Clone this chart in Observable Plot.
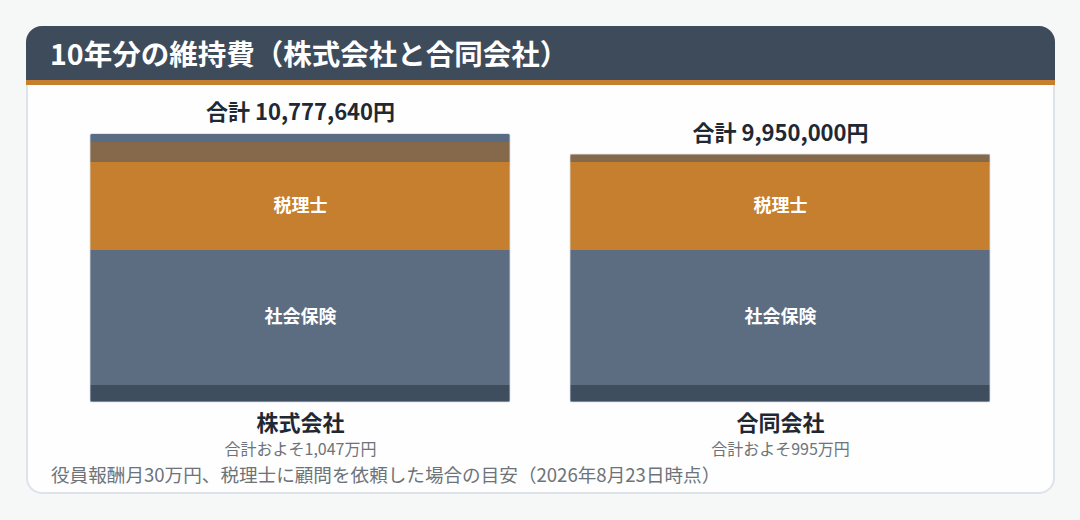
<!DOCTYPE html>
<html>
<head>
<meta charset="utf-8">
<script src="https://cdn.jsdelivr.net/npm/d3@7"></script>
<script src="https://cdn.jsdelivr.net/npm/@observablehq/plot@0.6"></script>
<style>
  html, body { margin: 0; padding: 0; background: #f6f7f7; }
  body { width: 1080px; height: 520px; position: relative; overflow: hidden;
         font-family: "Noto Sans CJK JP", "Noto Sans", sans-serif; }
  #card { position: absolute; left: 26px; top: 26px; width: 1029px; height: 468px;
          border-radius: 16px; background: #fdfefd; overflow: hidden;
          box-shadow: inset 0 0 0 2px #dee3ea; }
  #head { position: absolute; left: 0; top: 0; width: 100%; height: 54px;
          background: #3e4b5b; border-bottom: 5px solid #c57f2e; }
  #title { position: absolute; left: 24px; top: 0; line-height: 54px; font-size: 28.5px;
           font-weight: 700; color: #ffffff; white-space: nowrap; }
  #chart { position: absolute; left: 0; top: 85px; }
  #note { position: absolute; left: 51px; top: 464.5px; font-size: 18.6px; line-height: 18.6px;
          color: #6e737a; white-space: nowrap; }
</style>
</head>
<body>
<div id="card"><div id="head"><div id="title">10年分の維持費（株式会社と合同会社）</div></div></div>
<div id="chart"></div>
<div id="note">役員報酬月30万円、税理士に顧問を依頼した場合の目安（2026年8月23日時点）</div>
<script>
// ---- data ----
const companies = ["株式会社", "合同会社"];
const categories = ["法人住民税均等割", "社会保険", "税理士", "設立・登記費用", "決算公告"];
const kabushikiValues = [700000, 5420000, 3500000, 820000, 337640];
const goudouValues = [700000, 5420000, 3500000, 330000, 0];
const approxLabels = ["合計およそ1,047万円", "合計およそ995万円"];
const labeledCategories = ["社会保険", "税理士"];

// ---- build table ----
const seriesByCompany = [kabushikiValues, goudouValues];
const rows = [];
companies.forEach((c, i) => {
  categories.forEach((k, j) => {
    const v = seriesByCompany[i][j];
    if (v > 0) rows.push({company: c, category: k, value: v});
  });
});
const totals = companies.map((c, i) => ({
  company: c,
  total: d3.sum(seriesByCompany[i]),
  approx: approxLabels[i]
}));
const fmt = d3.format(",");

const plot = Plot.plot({
  width: 1080,
  height: 380,
  marginLeft: 90,
  marginRight: 90,
  marginTop: 48.5,
  marginBottom: 63,
  style: {background: "transparent", fontFamily: "'Noto Sans CJK JP', 'Noto Sans', sans-serif"},
  x: {type: "band", domain: companies, paddingInner: 0.125, paddingOuter: 0, axis: null},
  y: {domain: [0, d3.max(totals, d => d.total)], axis: null},
  color: {
    domain: categories,
    range: ["#3f4e5f", "#5c6d82", "#c57f2e", "#86684a", "#5a6c84"]
  },
  marks: [
    Plot.barY(rows, {x: "company", y: "value", fill: "category", shapeRendering: "crispEdges"}),
    Plot.barY(totals, {x: "company", y: "total", fill: "none", stroke: "#d8dfe8", strokeWidth: 0.8, rx: 2}),
    Plot.text(rows, Plot.stackY({
      x: "company", y: "value",
      text: d => labeledCategories.includes(d.category) ? d.category : "",
      fill: "white", fontWeight: 700, fontSize: 18, lineAnchor: "middle"
    })),
    Plot.text(totals, {
      x: "company", y: "total",
      text: d => "合計 " + fmt(d.total) + "円",
      lineAnchor: "bottom", dy: -14, fontSize: 22, fontWeight: 700, fill: "#1f2833"
    }),
    Plot.text(totals, {
      x: "company", frameAnchor: "bottom", text: "company",
      lineAnchor: "bottom", dy: 28.5, fontSize: 22, fontWeight: 700, fill: "#1f2833"
    }),
    Plot.text(totals, {
      x: "company", frameAnchor: "bottom", text: "approx",
      lineAnchor: "bottom", dy: 52, fontSize: 16, fill: "#6e737a"
    })
  ]
});
document.getElementById("chart").appendChild(plot);
</script>
</body>
</html>
